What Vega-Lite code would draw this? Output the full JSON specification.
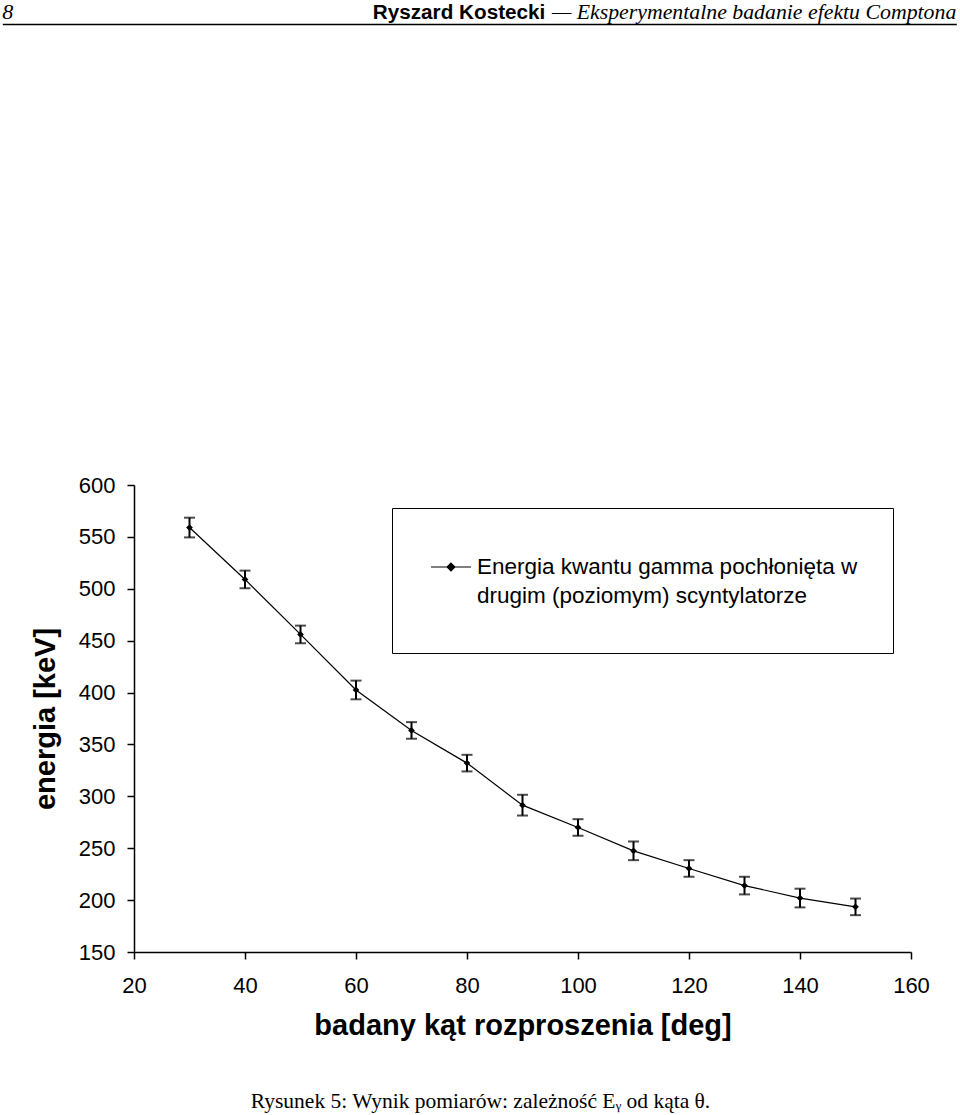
{
  "$schema": "https://vega.github.io/schema/vega-lite/v6.json",
  "background": "white",
  "padding": {"left": 2, "top": 0, "right": 0, "bottom": 0},
  "title": {
    "text": "Rysunek 5: Wynik pomiarów: zależność Eᵧ od kąta θ.",
    "orient": "bottom",
    "anchor": "middle",
    "frame": "group",
    "dx": -42,
    "font": "Liberation Serif",
    "fontSize": 21.5,
    "fontWeight": "normal",
    "color": "black",
    "offset": 51
  },
  "spacing": 450,
  "resolve": {"legend": {"color": "independent"}, "scale": {"color": "independent"}},
  "vconcat": [
    {
      "width": 777,
      "height": 23,
      "data": {"values": [
        {"strona": "lewa", "tekst": "8", "styl": "numer"},
        {"strona": "prawa", "tekst": "Ryszard Kostecki", "styl": "autor"},
        {"strona": "prawa", "tekst": "— Eksperymentalne badanie efektu Comptona", "styl": "tytul"}
      ]},
      "encoding": {
        "x": {"field": "strona", "type": "nominal",
              "scale": {"type": "point", "domain": ["lewa", "prawa"], "range": [-131.7, 822.3], "padding": 0},
              "axis": {"title": null, "labels": false, "ticks": false, "domain": true, "domainWidth": 1.5, "domainColor": "black"}},
        "text": {"field": "tekst"}
      },
      "layer": [
        {"transform": [{"filter": "datum.styl === 'numer'"}],
         "mark": {"type": "text", "align": "left", "baseline": "alphabetic", "font": "Liberation Serif", "fontStyle": "italic", "fontSize": 22, "dy": 6, "color": "black"}},
        {"transform": [{"filter": "datum.styl === 'autor'"}],
         "mark": {"type": "text", "align": "right", "baseline": "alphabetic", "font": "Liberation Sans", "fontWeight": "bold", "fontSize": 20.7, "dx": -411, "dy": 6, "color": "black"}},
        {"transform": [{"filter": "datum.styl === 'tytul'"}],
         "mark": {"type": "text", "align": "right", "baseline": "alphabetic", "font": "Liberation Serif", "fontStyle": "italic", "fontSize": 21.8, "dy": 6, "color": "black"}}
      ]
    },
    {
      "width": 777,
      "height": 467,
      "data": {"values": [
        {"kat": 30, "energia": 559, "blad": 9.5},
        {"kat": 40, "energia": 509, "blad": 8.5},
        {"kat": 50, "energia": 456, "blad": 8.5},
        {"kat": 60, "energia": 402.5, "blad": 9},
        {"kat": 70, "energia": 363.5, "blad": 8},
        {"kat": 80, "energia": 332, "blad": 8},
        {"kat": 90, "energia": 291.5, "blad": 10},
        {"kat": 100, "energia": 270, "blad": 8},
        {"kat": 110, "energia": 247.5, "blad": 9},
        {"kat": 120, "energia": 230.5, "blad": 8},
        {"kat": 130, "energia": 214, "blad": 8.5},
        {"kat": 140, "energia": 202, "blad": 9},
        {"kat": 150, "energia": 193.5, "blad": 8}
      ]},
      "encoding": {
        "x": {"field": "kat", "type": "quantitative",
              "scale": {"domain": [20, 160], "nice": false, "zero": false},
              "axis": {"title": "badany kąt rozproszenia [deg]", "values": [20, 40, 60, 80, 100, 120, 140, 160],
                       "tickSize": 7, "labelPadding": 16, "titlePadding": 15, "labelFlush": false}}
      },
      "layer": [
        {
          "mark": {"type": "errorbar", "ticks": {"size": 11}, "thickness": 2, "color": "black"},
          "encoding": {
            "y": {"field": "energia", "type": "quantitative",
                  "scale": {"domain": [150, 600], "nice": false, "zero": false},
                  "axis": {"title": "energia [keV]", "values": [150, 200, 250, 300, 350, 400, 450, 500, 550, 600],
                           "tickSize": 7, "labelPadding": 12, "titlePadding": 18, "labelFlush": false}},
            "yError": {"field": "blad"}
          }
        },
        {
          "mark": {"type": "line", "color": "black", "strokeWidth": 1.2,
                   "point": {"shape": "diamond", "size": 45, "filled": true, "color": "black"}},
          "encoding": {
            "y": {"field": "energia", "type": "quantitative"},
            "color": {"datum": "Energia kwantu gamma pochłonięta w drugim (poziomym) scyntylatorze",
                      "type": "nominal",
                      "scale": {"range": ["black"]},
                      "legend": {
                        "title": null,
                        "orient": "none",
                        "legendX": 258,
                        "legendY": 23,
                        "padding": 35,
                        "strokeColor": "black",
                        "fillColor": "white",
                        "labelFont": "Liberation Sans",
                        "labelFontSize": 22.5,
                        "labelColor": "black",
                        "labelLimit": 800,
                        "labelOffset": 2,
                        "labelBaseline": "middle",
                        "labelExpr": "['Energia kwantu gamma pochłonięta w', 'drugim (poziomym) scyntylatorze']",
                        "symbolType": "M-0.87,0H0.87M0,-0.17L0.17,0L0,0.17L-0.17,0ZM0,2.09L0,2.09",
                        "symbolSize": 2116,
                        "symbolStrokeWidth": 1.2,
                        "symbolStrokeColor": "black",
                        "symbolFillColor": "black"
                      }}
          }
        }
      ]
    }
  ],
  "config": {
    "font": "Liberation Sans",
    "view": {"stroke": null},
    "axis": {
      "domainColor": "black", "tickColor": "black", "labelColor": "black", "titleColor": "black",
      "labelFont": "Liberation Sans", "titleFont": "Liberation Sans",
      "labelFontSize": 22, "titleFontSize": 29, "titleFontWeight": "bold",
      "domainWidth": 1.5, "tickWidth": 1.5, "grid": false
    },
    "style": {"guide-label": {"lineHeight": 29}}
  }
}
